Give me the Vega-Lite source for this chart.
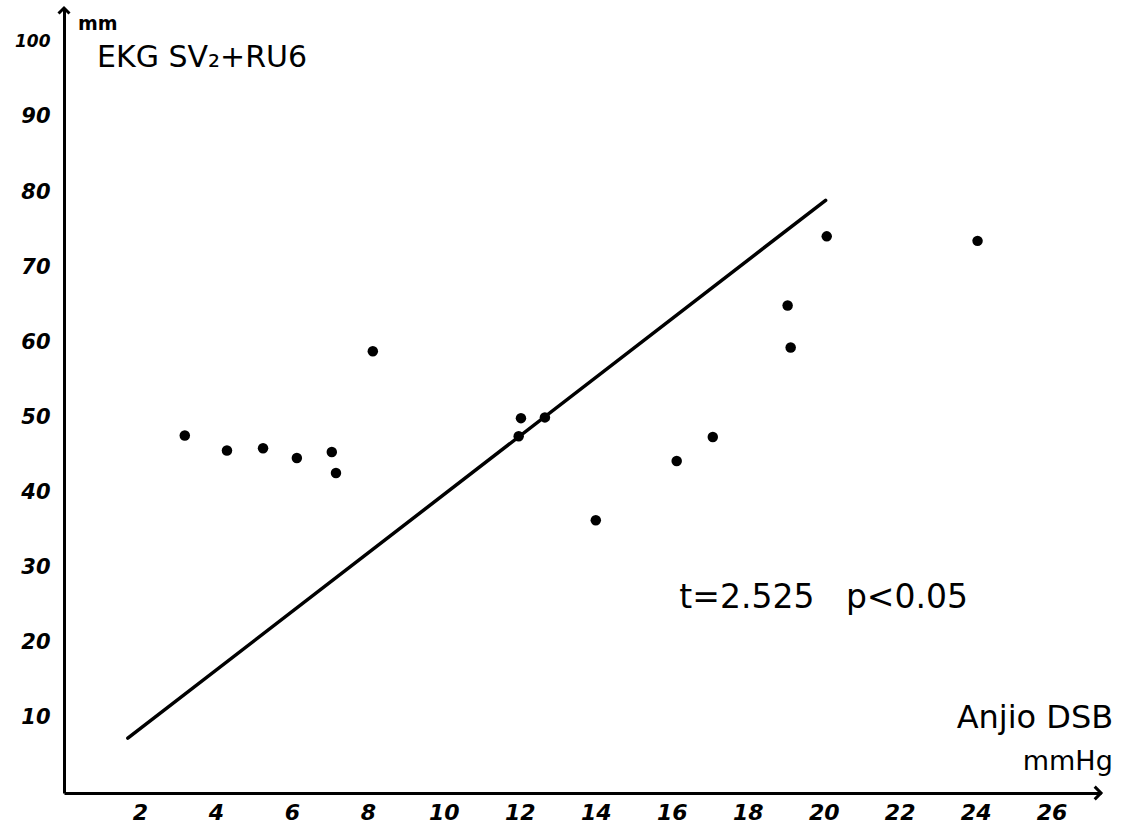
{
  "$schema": "https://vega.github.io/schema/vega-lite/v6.json",
  "autosize": {"type": "none"},
  "padding": {"left": 64, "top": 8, "right": 28, "bottom": 47},
  "width": 1037,
  "height": 785,
  "background": "white",
  "config": {"view": {"stroke": null}, "font": "DejaVu Sans"},
  "datasets": {
    "points": [
      {"x": 3.18, "y": 47.6},
      {"x": 4.29, "y": 45.6},
      {"x": 5.24, "y": 45.9},
      {"x": 6.13, "y": 44.6},
      {"x": 7.05, "y": 45.4},
      {"x": 7.16, "y": 42.6},
      {"x": 8.13, "y": 58.8},
      {"x": 12.03, "y": 49.9},
      {"x": 11.97, "y": 47.5},
      {"x": 12.66, "y": 50.0},
      {"x": 14.0, "y": 36.3},
      {"x": 16.13, "y": 44.2},
      {"x": 17.08, "y": 47.4},
      {"x": 19.05, "y": 64.9},
      {"x": 19.13, "y": 59.3},
      {"x": 20.08, "y": 74.1},
      {"x": 24.05, "y": 73.5}
    ],
    "fit": [
      {"x": 1.68, "y": 7.3},
      {"x": 20.05, "y": 78.9}
    ],
    "one": [{}]
  },
  "layer": [
    {
      "data": {"name": "fit"},
      "mark": {"type": "line", "color": "black", "strokeWidth": 3.5, "strokeCap": "round"},
      "encoding": {
        "x": {
          "field": "x", "type": "quantitative", "title": null,
          "scale": {"domain": [0, 27.3], "nice": false, "zero": false},
          "axis": {
            "values": [2, 4, 6, 8, 10, 12, 14, 16, 18, 20, 22, 24, 26],
            "grid": false, "ticks": false, "tickSize": 0,
            "domainColor": "black", "domainWidth": 3,
            "labelFont": "DejaVu Sans", "labelFontSize": 22, "labelFontStyle": "italic", "labelFontWeight": "bold",
            "labelColor": "black", "labelPadding": 9, "labelFlush": false
          }
        },
        "y": {
          "field": "y", "type": "quantitative", "title": null,
          "scale": {"domain": [0, 104.5], "nice": false, "zero": false},
          "axis": {
            "values": [10, 20, 30, 40, 50, 60, 70, 80, 90, 100],
            "grid": false, "ticks": false, "tickSize": 0,
            "domainColor": "black", "domainWidth": 3,
            "labelFont": "DejaVu Sans",
            "labelFontSize": {"condition": {"test": "datum.value === 100", "value": 17}, "value": 21},
            "labelFontStyle": "italic", "labelFontWeight": "bold",
            "labelColor": "black", "labelPadding": 14, "labelFlush": false
          }
        }
      }
    },
    {
      "data": {"name": "points"},
      "mark": {"type": "point", "shape": "circle", "filled": true, "color": "black", "opacity": 1, "size": 110},
      "encoding": {
        "x": {"field": "x", "type": "quantitative", "title": null},
        "y": {"field": "y", "type": "quantitative", "title": null}
      }
    },
    {
      "data": {"name": "one"},
      "mark": {"type": "point", "shape": "M-1,1L0,0L1,1", "filled": false, "stroke": "black", "strokeWidth": 3, "size": 120, "opacity": 1},
      "encoding": {
        "x": {"datum": 0},
        "y": {"datum": 104.5}
      }
    },
    {
      "data": {"name": "one"},
      "mark": {"type": "point", "shape": "M-1,-1L0,0L-1,1", "filled": false, "stroke": "black", "strokeWidth": 3, "size": 160, "opacity": 1},
      "encoding": {
        "x": {"datum": 27.3},
        "y": {"datum": 0}
      }
    },
    {
      "data": {"name": "one"},
      "mark": {"type": "text", "text": "mm", "align": "left", "baseline": "middle", "fontSize": 19, "fontWeight": "bold", "font": "DejaVu Sans", "color": "black"},
      "encoding": {"x": {"datum": 0.37}, "y": {"datum": 102.4}}
    },
    {
      "data": {"name": "one"},
      "mark": {"type": "text", "text": "EKG SV₂+RU6", "align": "left", "baseline": "middle", "fontSize": 30, "font": "DejaVu Sans", "color": "black"},
      "encoding": {"x": {"datum": 0.87}, "y": {"datum": 97.8}}
    },
    {
      "data": {"name": "one"},
      "mark": {"type": "text", "text": "t=2.525\u00a0\u00a0\u00a0p<0.05", "align": "left", "baseline": "middle", "fontSize": 33, "font": "DejaVu Sans", "color": "black"},
      "encoding": {"x": {"datum": 16.2}, "y": {"datum": 26.0}}
    },
    {
      "data": {"name": "one"},
      "mark": {"type": "text", "text": "Anjio DSB", "align": "left", "baseline": "middle", "fontSize": 32, "font": "DejaVu Sans", "color": "black"},
      "encoding": {"x": {"datum": 23.5}, "y": {"datum": 10.0}}
    },
    {
      "data": {"name": "one"},
      "mark": {"type": "text", "text": "mmHg", "align": "left", "baseline": "middle", "fontSize": 27, "font": "DejaVu Sans", "color": "black"},
      "encoding": {"x": {"datum": 25.24}, "y": {"datum": 4.1}}
    }
  ]
}
